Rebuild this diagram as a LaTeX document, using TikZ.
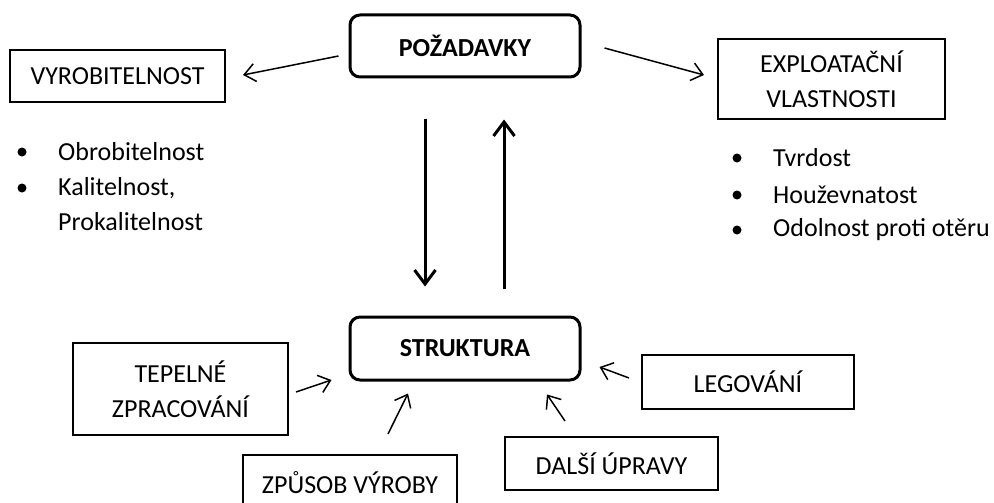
\documentclass[tikz,border=0pt]{standalone}
\usepackage{fontspec}
\setmainfont{Carlito}
\usetikzlibrary{arrows.meta,calc}

\begin{document}
\begin{tikzpicture}[x=1pt, y=-1pt, >={Straight Barb[length=11pt,width=18pt]},
    every node/.style={font=\fontsize{26}{35}\selectfont, inner sep=0pt, align=center},
    mainbox/.style={draw, line width=3pt, rounded corners=10pt, font=\fontsize{26}{35}\selectfont\bfseries},
    sidebox/.style={draw, line width=2pt},
    thinarrow/.style={->, line width=1.5pt},
    boldarrow/.style={-{Straight Barb[length=14pt,width=21pt]}, line width=3pt}]
    \clip (0,0) rectangle (994,503);
    % main boxes
    \node[mainbox, minimum width=230pt, minimum height=62pt] (poz) at (465,46) {POŽADAVKY};
    \node[mainbox, minimum width=230pt, minimum height=63pt] (str) at (465,348.5) {STRUKTURA};
    % top boxes
    \node[sidebox, minimum width=215pt, minimum height=52pt] (vyr) at (117.5,76) {VYROBITELNOST};
    \node[sidebox, minimum width=227pt, minimum height=80pt] (exp) at (831.5,79) {EXPLOATAČNÍ\\VLASTNOSTI};
    % bottom boxes
    \node[sidebox, minimum width=215pt, minimum height=92pt] (tep) at (180.5,389) {TEPELNÉ\\ZPRACOVÁNÍ};
    \node[sidebox, minimum width=214pt, minimum height=55pt] (zpu) at (350,482.5) {ZPŮSOB VÝROBY};
    \node[sidebox, minimum width=212pt, minimum height=54pt] (leg) at (748,382) {LEGOVÁNÍ};
    \node[sidebox, minimum width=213pt, minimum height=53pt] (dal) at (611.5,463.5) {DALŠÍ ÚPRAVY};
    % lists
    \foreach \y in {152,188} \fill (22,\y) circle (4.5);
    \node[anchor=west] (obr) at (58,152) {Obrobitelnost};
    \node[anchor=west] (kal) at (58,188) {Kalitelnost,};
    \node[anchor=west] (pro) at (58,222) {Prokalitelnost};
    \foreach \y in {158,195,230} \fill (737,\y) circle (4.5);
    \node[anchor=west] (tvr) at (773,158) {Tvrdost};
    \node[anchor=west] (hou) at (773,195) {Houževnatost};
    \node[anchor=west] (odo) at (773,230) {Odolnost proti otěru};
    % arrows
    \draw[thinarrow] ($(poz.west)+(-10,10)$) -- ($(vyr.east)+(17,-1)$);
    \draw[thinarrow] ($(poz.east)+(23,2)$) -- ($(exp.west)+(-13,-4)$);
    \draw[boldarrow] ($(poz.south)+(-40,40)$) -- ($(str.north)+(-40,-29)$);
    \draw[boldarrow] ($(str.north)+(39,-27)$) -- ($(poz.south)+(39,41)$);
    \draw[thinarrow] ($(tep.east)+(7,3)$) -- ($(str.west)+(-17,31.5)$);
    \draw[thinarrow] ($(zpu.north)+(38,-20)$) -- ($(str.south)+(-57,12)$);
    \draw[thinarrow] ($(leg.west)+(-12,-4)$) -- ($(str.east)+(18,18.5)$);
    \draw[thinarrow] ($(dal.north)+(-46.5,-15)$) -- ($(str.south)+(82,13)$);
\end{tikzpicture}
\end{document}
